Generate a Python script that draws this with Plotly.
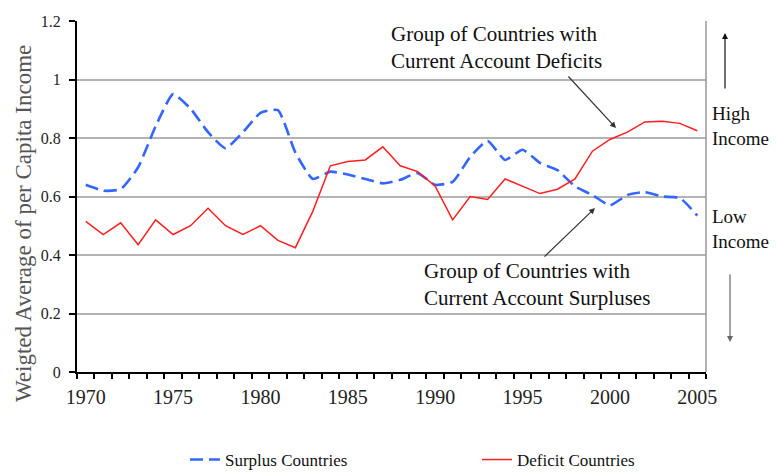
import plotly.graph_objects as go

years = list(range(1970, 2006))
surplus = [0.64, 0.62, 0.625, 0.70, 0.84, 0.95, 0.90, 0.82, 0.765, 0.82,
           0.886, 0.895, 0.75, 0.66, 0.685, 0.675, 0.66, 0.645, 0.657, 0.68,
           0.64, 0.65, 0.735, 0.79, 0.725, 0.76, 0.715, 0.69, 0.635, 0.605,
           0.57, 0.605, 0.615, 0.60, 0.595, 0.535]
deficit = [0.515, 0.47, 0.51, 0.435, 0.52, 0.47, 0.50, 0.56, 0.50, 0.47,
           0.50, 0.45, 0.425, 0.55, 0.705, 0.72, 0.725, 0.77, 0.705, 0.685,
           0.635, 0.52, 0.60, 0.59, 0.66, 0.635, 0.61, 0.625, 0.66, 0.755,
           0.795, 0.82, 0.855, 0.857, 0.85, 0.825]
y_ticks = [0, 0.2, 0.4, 0.6, 0.8, 1.0, 1.2]
y_tick_text = ["0", "0.2", "0.4", "0.6", "0.8", "1", "1.2"]
x_ticks = [1970, 1975, 1980, 1985, 1990, 1995, 2000, 2005]

FONT = "Liberation Serif"
OFF = 8  # page body margin
W, H = 779 - OFF, 472 - OFF
L, R, T, B = 77 - OFF, 73, 21 - OFF, 100
PW, PH = W - L - R, H - T - B


def px_x(p):
    return (p - OFF - L) / PW


def px_y(p):
    return 1 - (p - OFF - T) / PH


fig = go.Figure()
fig.add_trace(go.Scatter(
    x=years, y=surplus, mode="lines", name="Surplus Countries",
    line=dict(color="rgb(51,102,255)", width=2.6, dash="13px,6px",
              shape="spline", smoothing=0.5)))
fig.add_trace(go.Scatter(
    x=years, y=deficit, mode="lines", name="Deficit Countries",
    line=dict(color="rgb(255,30,30)", width=1.5)))

fig.update_xaxes(
    range=[1969.5, 2005.5], tickvals=x_ticks, ticks="",
    minor=dict(ticks="outside", tick0=1969.5, dtick=1, ticklen=5,
               tickcolor="black", tickwidth=1.5, showgrid=False),
    showline=True, linecolor="black", linewidth=2, showgrid=False,
    zeroline=False, tickfont=dict(family=FONT, size=20, color="#222"),
    ticklabelstandoff=6, automargin=False)
fig.update_yaxes(
    range=[0, 1.2], tickvals=y_ticks, ticktext=y_tick_text,
    ticks="outside", ticklen=6, tickcolor="black", tickwidth=1.5,
    showline=True, linecolor="black", linewidth=2,
    showgrid=True, gridcolor="#b4b4b4", gridwidth=1.5, zeroline=False,
    tickfont=dict(family=FONT, size=16, color="#222"), ticklabelstandoff=5,
    automargin=False)

anns = []
# y axis title
anns.append(dict(xref="paper", yref="paper", x=px_x(23), y=px_y(224),
                 text="Weigted Average of per Capita Income", textangle=-90,
                 showarrow=False, font=dict(family=FONT, size=23, color="#555"),
                 xanchor="center", yanchor="middle"))
anns.append(dict(xref="paper", yref="paper", x=px_x(389), y=px_y(47),
                 text="Group of Countries with<br>Current Account Deficits",
                 align="left", showarrow=False, xanchor="left", yanchor="middle",
                 font=dict(family=FONT, size=21, color="#111")))
anns.append(dict(xref="paper", yref="paper", x=px_x(422), y=px_y(284),
                 text="Group of Countries with<br>Current Account Surpluses",
                 align="left", showarrow=False, xanchor="left", yanchor="middle",
                 font=dict(family=FONT, size=21, color="#111")))
# pointer arrows
anns.append(dict(xref="paper", yref="paper", x=px_x(616), y=px_y(128),
                 ax=-49, ay=-53, text="", showarrow=True, arrowhead=2,
                 arrowsize=1, arrowwidth=1.2, arrowcolor="#333"))
anns.append(dict(xref="paper", yref="paper", x=px_x(595), y=px_y(208),
                 ax=-52, ay=50, text="", showarrow=True, arrowhead=2,
                 arrowsize=1, arrowwidth=1.2, arrowcolor="#333"))
# right side
anns.append(dict(xref="paper", yref="paper", x=px_x(710), y=px_y(126),
                 text="High<br>Income", align="left", showarrow=False,
                 xanchor="left", yanchor="middle",
                 font=dict(family=FONT, size=19, color="#111")))
anns.append(dict(xref="paper", yref="paper", x=px_x(710), y=px_y(229),
                 text="Low<br>Income", align="left", showarrow=False,
                 xanchor="left", yanchor="middle",
                 font=dict(family=FONT, size=19, color="#111")))
anns.append(dict(xref="paper", yref="paper", x=px_x(725), y=px_y(33),
                 ax=0, ay=57, text="", showarrow=True, arrowhead=2,
                 arrowsize=1, arrowwidth=1.2, arrowcolor="#111"))
anns.append(dict(xref="paper", yref="paper", x=px_x(730), y=px_y(342),
                 ax=0, ay=-69, text="", showarrow=True, arrowhead=2,
                 arrowsize=1, arrowwidth=1.2, arrowcolor="#666"))

fig.update_layout(
    width=W, height=H,
    margin=dict(l=L, r=R, t=T, b=B, autoexpand=False),
    paper_bgcolor="white", plot_bgcolor="white",
    annotations=anns,
    shapes=[dict(type="line", xref="paper", yref="paper", x0=1, x1=1,
                 y0=0, y1=1, line=dict(color="#999", width=1.5))],
    showlegend=True,
    legend=dict(orientation="h", x=px_x(185), y=px_y(460), xanchor="left",
                yanchor="middle", entrywidth=247, entrywidthmode="pixels",
                font=dict(family=FONT, size=17, color="#111"),
                bgcolor="rgba(0,0,0,0)"),
)

fig.write_html("out.html")
